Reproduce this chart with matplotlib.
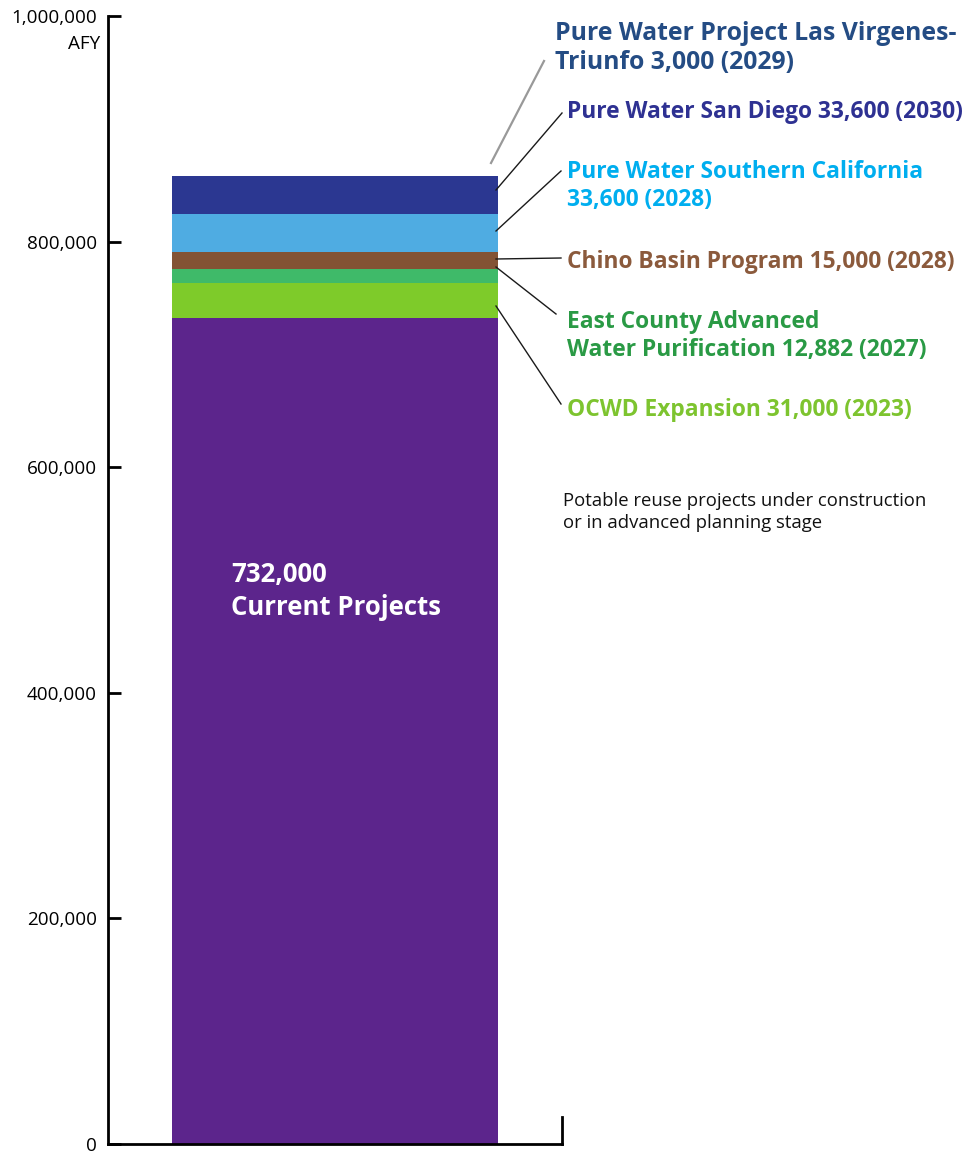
import numpy as np
import matplotlib.pyplot as plt

plt.rcParams['font.family'] = ['Open Sans', 'DejaVu Sans']

# stacked segments, bottom to top
segments = ['Current Projects', 'OCWD Expansion', 'East County Advanced Water Purification',
            'Chino Basin Program', 'Pure Water Southern California', 'Pure Water San Diego',
            'Pure Water Project Las Virgenes-Triunfo']
values = [732000, 31000, 12882, 15000, 33600, 33600, 3000]
years = [None, 2023, 2027, 2028, 2028, 2030, 2029]
labels = [None,
          'OCWD Expansion 31,000 (2023)',
          'East County Advanced\nWater Purification 12,882 (2027)',
          'Chino Basin Program 15,000 (2028)',
          'Pure Water Southern California\n33,600 (2028)',
          'Pure Water San Diego 33,600 (2030)',
          'Pure Water Project Las Virgenes-\nTriunfo 3,000 (2029)']
bar_colors = ['#5c258c', '#7ecb2a', '#3fba69', '#835334', '#4face2', '#2b3791', 'none']
text_colors = [None, '#7dc42f', '#2a9a45', '#8b5a3c', '#00aeef', '#2e3192', '#244c84']
yticks = [0, 200000, 400000, 600000, 800000, 1000000]
ytick_labels = ['0', '200,000', '400,000', '600,000', '800,000', '1,000,000']

W, H = 966, 1151
fig = plt.figure(figsize=(W / 100, H / 100), dpi=100)
ax = fig.add_axes([108 / W, 7 / H, 454 / W, 1128 / H])

bottoms = np.concatenate([[0], np.cumsum(values)[:-1]])
ax.bar([0.5] * len(values), values, width=0.718, bottom=bottoms, color=bar_colors,
       linewidth=0)

ax.set_xlim(0, 1)
ax.set_ylim(0, 1000000)
ax.set_xticks([])
ax.set_yticks(yticks)
ax.set_yticklabels(ytick_labels, fontsize=13.6)
ax.tick_params(axis='y', direction='in', length=9, width=2, pad=8)
for s in ['left', 'bottom', 'right']:
    ax.spines[s].set_linewidth(2)
ax.spines['top'].set_visible(False)
ax.spines['right'].set_bounds(0, 24000)


def px(x, y):
    return ((x - 108) / 454, (1144 - y) / 1128 * 1e6)


tx, ty = px(100, 44)
ax.text(tx, ty, 'AFY', fontsize=13.6, ha='right', va='center', clip_on=False)

tx, ty = px(231, 591)
ax.text(tx, ty, '732,000\nCurrent Projects', color='white',
        fontsize=18.5, fontweight='bold', va='center', ha='left', linespacing=1.25)

# leader line ends (pixel layout) and label positions
starts = [None, 306, 267, 259, 231, 190, 163]
ends = [None, (561, 404), (556, 314), (561, 258), (561, 171), (562, 113), (544, 61)]
text_pos = [None, (567, 410), (567, 336), (567, 262), (567, 186), (567, 112), (555, 48)]
sizes = [None, 16.4, 16.4, 16.4, 16.4, 16.4, 17.8]

for i in range(1, len(values)):
    x0 = 496 if i < 6 else 491
    lc = '#1a1a1a' if i < 6 else '#999999'
    lw = 1 if i < 6 else 1.6
    p0 = px(x0, starts[i])
    p1 = px(*ends[i])
    ax.plot([p0[0], p1[0]], [p0[1], p1[1]], color=lc, lw=lw, clip_on=False)
    tx, ty = px(*text_pos[i])
    ax.text(tx, ty, labels[i], color=text_colors[i], fontsize=sizes[i], fontweight='bold',
            va='center', ha='left', linespacing=1.25, clip_on=False)

tx, ty = px(563, 512)
ax.text(tx, ty, 'Potable reuse projects under construction\nor in advanced planning stage',
        fontsize=13.3, va='center', ha='left', linespacing=1.35, color='#111111')

fig.savefig('out.png', dpi=100)
